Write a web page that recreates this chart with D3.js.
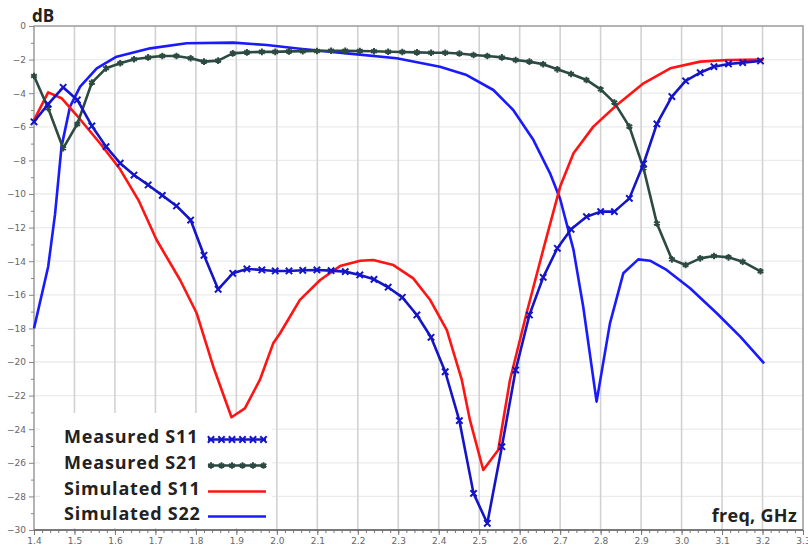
<!DOCTYPE html>
<html>
<head>
<meta charset="utf-8">
<script src="https://cdn.jsdelivr.net/npm/d3@7"></script>
<style>
  html, body { margin: 0; padding: 0; background: #fff; }
  svg { display: block; }
  .tick text { font-family: "DejaVu Sans", sans-serif; font-size: 9px; fill: #666; }
</style>
</head>
<body>
<svg id="chart" width="808" height="552"></svg>
<script>
// measured data share one frequency grid (GHz)
const measFreq = [1.400,1.435,1.472,1.507,1.543,1.578,1.613,1.647,1.682,1.717,1.752,1.787,1.820,1.855,1.891,1.926,1.963,1.996,2.030,2.064,2.099,2.134,2.169,2.205,2.240,2.275,2.310,2.346,2.381,2.416,2.451,2.486,2.520,2.556,2.590,2.624,2.658,2.693,2.727,2.765,2.800,2.834,2.871,2.906,2.939,2.976,3.010,3.046,3.080,3.116,3.151,3.195];
const measS11 = [-5.7,-4.65,-3.65,-4.4,-5.95,-7.18,-8.17,-8.87,-9.46,-10.08,-10.71,-11.55,-13.65,-15.67,-14.72,-14.46,-14.52,-14.58,-14.58,-14.54,-14.52,-14.56,-14.62,-14.82,-15.08,-15.55,-16.15,-17.2,-18.53,-20.58,-23.49,-27.82,-29.6,-25.04,-20.48,-17.2,-14.96,-13.23,-12.1,-11.35,-11.05,-11.05,-10.26,-8.2,-5.83,-4.2,-3.27,-2.78,-2.42,-2.26,-2.18,-2.08];
const measS21 = [-2.98,-4.9,-7.28,-5.83,-3.37,-2.52,-2.22,-1.98,-1.87,-1.79,-1.79,-1.92,-2.12,-2.06,-1.63,-1.57,-1.54,-1.54,-1.51,-1.5,-1.49,-1.47,-1.48,-1.49,-1.5,-1.53,-1.55,-1.57,-1.59,-1.59,-1.64,-1.73,-1.79,-1.87,-2.02,-2.12,-2.28,-2.58,-2.86,-3.21,-3.77,-4.56,-5.99,-8.47,-11.75,-13.89,-14.23,-13.83,-13.69,-13.77,-14.03,-14.6];

// simulated curves
const simS11Freq = [1.400,1.435,1.468,1.505,1.563,1.612,1.658,1.703,1.761,1.802,1.843,1.888,1.921,1.958,1.991,2.008,2.057,2.107,2.156,2.206,2.238,2.288,2.337,2.379,2.420,2.457,2.477,2.510,2.547,2.576,2.617,2.658,2.700,2.733,2.782,2.840,2.906,2.972,3.046,3.112,3.202];
const simS11 = [-5.6,-3.95,-4.3,-5.3,-6.98,-8.5,-10.36,-12.74,-15.12,-17.1,-20.28,-23.29,-22.76,-21.07,-18.89,-18.29,-16.3,-15.12,-14.29,-13.97,-13.93,-14.23,-15.02,-16.31,-18.1,-21.07,-23.45,-26.43,-25.24,-21.07,-17.1,-13.33,-9.56,-7.58,-5.99,-4.7,-3.41,-2.52,-2.12,-2.02,-2.0];
const simS22Freq = [1.400,1.435,1.452,1.468,1.489,1.514,1.555,1.604,1.687,1.777,1.892,1.975,2.057,2.173,2.296,2.403,2.469,2.535,2.584,2.634,2.675,2.700,2.733,2.757,2.790,2.823,2.856,2.893,2.922,2.963,3.021,3.087,3.145,3.204];
const simS22 = [-18.0,-14.33,-11.2,-7.18,-4.8,-3.61,-2.52,-1.83,-1.33,-1.03,-0.99,-1.13,-1.35,-1.63,-1.92,-2.42,-2.92,-3.81,-5.0,-6.79,-8.77,-10.3,-13.33,-16.71,-22.36,-17.7,-14.72,-13.89,-13.97,-14.52,-15.61,-17.1,-18.49,-20.08];

const legendLabels = ['Measured S11', 'Measured S21', 'Simulated S11', 'Simulated S22'];
const colors = { mS11: '#1414c8', mS21: '#2c4a42', sS11: '#ff1414', sS22: '#1a1aff' };

const W = 808, H = 552;
const m = { top: 26, right: 5, bottom: 22, left: 34 };

const svg = d3.select('#chart');
const x = d3.scaleLinear().domain([1.4, 3.3]).range([m.left, W - m.right]);
const y = d3.scaleLinear().domain([-30, 0]).range([H - m.bottom, m.top]);

// Grid lines
svg.append('g')
    .selectAll('line')
    .data(d3.range(-28, 0, 2))
    .enter().append('line')
    .attr('x1', x(1.4)).attr('x2', x(3.3))
    .attr('y1', d => y(d)).attr('y2', d => y(d))
    .attr('stroke', '#ebebeb').attr('stroke-width', 1.3);

svg.append('g')
    .selectAll('line')
    .data(d3.range(15, 33).map(d => d / 10))
    .enter().append('line')
    .attr('x1', d => x(d)).attr('x2', d => x(d))
    .attr('y1', y(0)).attr('y2', y(-30))
    .attr('stroke', '#d2d2d2').attr('stroke-width', 1.6);

// legend background covers the grid
svg.append('rect')
    .attr('x', 40).attr('y', 413).attr('width', 232).attr('height', 115)
    .attr('fill', '#fff');

// Frame
svg.append('rect')
    .attr('x', x(1.4)).attr('y', y(0))
    .attr('width', x(3.3) - x(1.4)).attr('height', y(-30) - y(0))
    .attr('fill', 'none').attr('stroke', '#9a9a9a').attr('stroke-width', 1.5);

// Y axis: minor + major ticks
svg.append('g')
    .attr('transform', `translate(${x(1.4)},0)`)
    .call(d3.axisLeft(y).tickValues(d3.range(-29, 0, 2)).tickSize(3).tickFormat(''))
    .call(g => g.selectAll('line').attr('stroke', '#888'))
    .select('.domain').remove();
svg.append('g')
    .attr('transform', `translate(${x(1.4)},0)`)
    .call(d3.axisLeft(y).tickValues(d3.range(-30, 1, 2)).tickSize(5).tickPadding(3))
    .call(g => g.selectAll('line').attr('stroke', '#888'))
    .select('.domain').remove();

// X axis: minor + major ticks
svg.append('g')
    .attr('transform', `translate(0,${y(-30)})`)
    .call(d3.axisBottom(x).tickValues(d3.range(70, 166).map(d => d / 50)).tickSize(3).tickFormat(''))
    .call(g => g.selectAll('line').attr('stroke', '#777'))
    .select('.domain').remove();
svg.append('g')
    .attr('transform', `translate(0,${y(-30)})`)
    .call(d3.axisBottom(x).tickValues(d3.range(14, 34).map(d => d / 10)).tickSize(5).tickPadding(3).tickFormat(d3.format('.1f')))
    .call(g => g.selectAll('line').attr('stroke', '#777'))
    .select('.domain').remove();

svg.append('line')
    .attr('x1', x(1.4)).attr('x2', x(3.3))
    .attr('y1', y(-30)).attr('y2', y(-30))
    .attr('stroke', '#666').attr('stroke-width', 1.5);

// Curves
const line = d3.line().x(d => x(d[0])).y(d => y(d[1]));
const zip = (a, b) => a.map((v, i) => [v, b[i]]);

const series = [
    { key: 'sS22', data: zip(simS22Freq, simS22) },
    { key: 'sS11', data: zip(simS11Freq, simS11) },
    { key: 'mS21', data: zip(measFreq, measS21), marker: 'asterisk' },
    { key: 'mS11', data: zip(measFreq, measS11), marker: 'times' }
];

const markerPath = {
    times: d3.symbol().type(d3.symbolTimes).size(28)(),
    asterisk: d3.symbol().type(d3.symbolAsterisk).size(30)()
};

series.forEach(s => {
    svg.append('path')
        .datum(s.data)
        .attr('d', line)
        .attr('fill', 'none')
        .attr('stroke', colors[s.key])
        .attr('stroke-width', 2.6)
        .attr('stroke-linejoin', 'round');
    if (s.marker) {
        svg.append('g')
            .selectAll('path')
            .data(s.data)
            .enter().append('path')
            .attr('transform', d => `translate(${x(d[0])},${y(d[1])})`)
            .attr('d', markerPath[s.marker])
            .attr('fill', 'none')
            .attr('stroke', colors[s.key])
            .attr('stroke-width', 2);
    }
});

// Axis titles
svg.append('text')
    .attr('x', 32).attr('y', 22)
    .attr('font-family', '"Open Sans", sans-serif').attr('font-weight', 700)
    .attr('font-size', 17).attr('fill', '#222')
    .text('dB');
svg.append('text')
    .attr('x', 797).attr('y', 522).attr('text-anchor', 'end')
    .attr('font-family', '"Open Sans", sans-serif').attr('font-weight', 700)
    .attr('font-size', 18).attr('letter-spacing', 0.3).attr('fill', '#222')
    .text('freq, GHz');

// Legend
const legKeys = ['mS11', 'mS21', 'sS11', 'sS22'];
const legY = [443, 469, 495, 520];
const leg = svg.append('g');
legKeys.forEach((k, i) => {
    leg.append('text')
        .attr('x', 64).attr('y', legY[i])
        .attr('font-family', '"Open Sans", sans-serif').attr('font-weight', 700)
        .attr('font-size', 18).attr('letter-spacing', 0.8).attr('fill', '#222')
        .text(legendLabels[i]);
    const ly = legY[i] - 3.5;
    leg.append('line')
        .attr('x1', 208).attr('x2', 266)
        .attr('y1', ly).attr('y2', ly)
        .attr('stroke', colors[k]).attr('stroke-width', 2.6);
    if (k === 'mS11' || k === 'mS21') {
        leg.selectAll(null)
            .data(d3.range(6))
            .enter().append('path')
            .attr('transform', j => `translate(${211 + j * 10.5},${ly})`)
            .attr('d', k === 'mS11' ? markerPath.times : markerPath.asterisk)
            .attr('fill', 'none').attr('stroke', colors[k]).attr('stroke-width', 2);
    }
});
</script>
</body>
</html>
